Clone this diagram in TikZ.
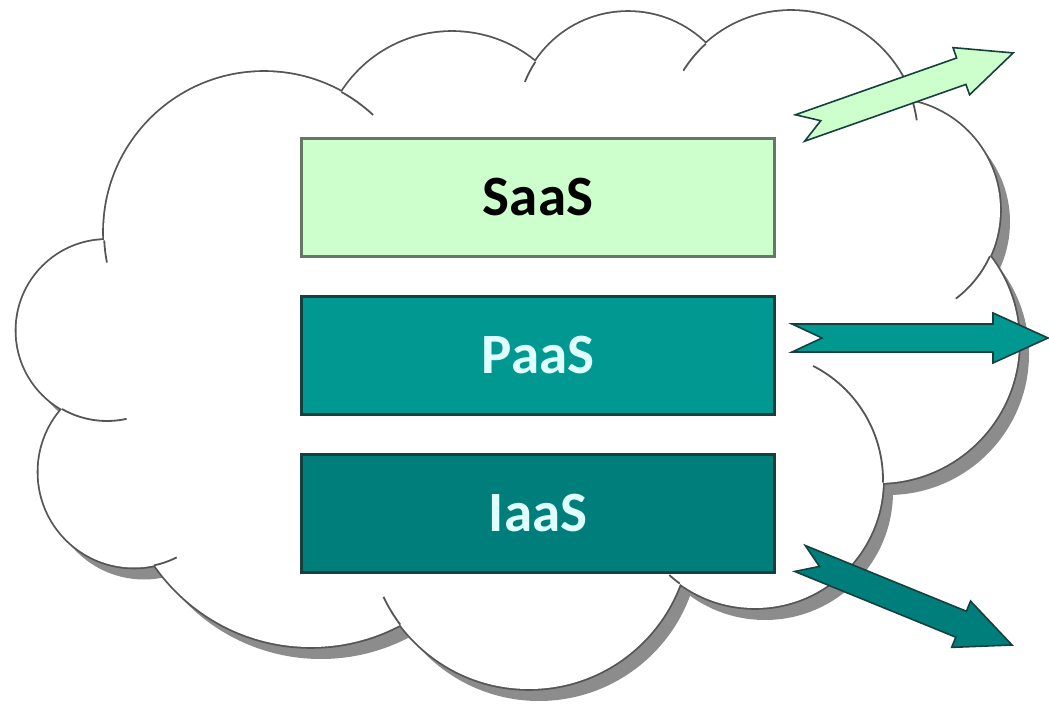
\documentclass[tikz,border=0pt]{standalone}
\usepackage{fontspec}
\setmainfont{Carlito}
\usetikzlibrary{positioning}
\definecolor{saaslight}{HTML}{CCFFCC}
\definecolor{saasedge}{HTML}{667766}
\definecolor{paasteal}{HTML}{009891}
\definecolor{iaasteal}{HTML}{007E7C}
\definecolor{tealedge}{HTML}{163F3E}
\definecolor{layertext}{HTML}{E0FFFF}
\definecolor{cloudline}{HTML}{555555}
\definecolor{cloudshade}{HTML}{8C8C8C}
\newcommand{\cloudbumps}{(264,232) circle[radius=160] (107,330.5) circle[radius=90.5] (134,472) circle[radius=95.5] (311,457) circle[radius=190] (529,528) circle[radius=161] (755,480) circle[radius=128] (878,342) circle[radius=141] (889,210) circle[radius=111] (791,138) circle[radius=127] (628,123) circle[radius=111] (452,163) circle[radius=131]}
\newcommand{\cloudcore}{(105,240) -- (341,93) -- (535,62) -- (706,44) -- (912,101) -- (990,257) -- (883,483) -- (680,584) -- (400,625) -- (154,565) -- (62,409) -- cycle}

\begin{document}
\begin{tikzpicture}[x=0.5pt, y=-0.5pt,
  layer/.style={draw, line width=1.5pt, minimum width=236.5pt, minimum height=59pt, inner sep=0pt, font=\bfseries\fontsize{28.5}{30}\selectfont},
  tail/.style={cloudline, line width=0.9pt},
  pics/notched/.style 2 args={code={\path[pic actions, line width=0.8pt, line join=miter] (0,-14) -- (#1-55,-14) -- (#1-55,-25) -- (#1,0) -- (#1-55,25) -- (#1-55,14) -- (0,14) -- (#2,0) -- cycle;}}]
\useasboundingbox (0,0) rectangle (1049,704);
% cloud: shadow, outline, then white body
\fill[cloudshade, shift={(10,12)}] \cloudbumps; \fill[cloudshade, shift={(10,12)}] \cloudcore;
\draw[cloudline, line width=1.8pt] \cloudbumps;
\fill[white] \cloudbumps; \fill[white] \cloudcore;
% inner ends of the bumps
\draw[tail] (264,232) ++(-61:160) arc[start angle=-61, end angle=-47, radius=160];
\draw[tail] (264,232) ++(177:160) arc[start angle=177, end angle=169, radius=160];
\draw[tail] (107,330.5) ++(119.8:90.5) arc[start angle=119.8, end angle=77.5, radius=90.5];
\draw[tail] (134,472) ++(77.9:95.5) arc[start angle=77.9, end angle=63.4, radius=95.5];
\draw[tail] (529,528) ++(143.1:161) arc[start angle=143.1, end angle=154.7, radius=161];
\draw[tail] (755,480) ++(126:128) arc[start angle=126, end angle=132, radius=128];
\draw[tail] (755,480) ++(1.2:128) arc[start angle=1.2, end angle=-63, radius=128];
\draw[tail] (889,210) ++(24.6:111) arc[start angle=24.6, end angle=53, radius=111];
\draw[tail] (791,138) ++(-16.7:127) arc[start angle=-16.7, end angle=-8, radius=127];
\draw[tail] (791,138) ++(227.9:127) arc[start angle=227.9, end angle=212, radius=127];
\draw[tail] (628,123) ++(213.4:111) arc[start angle=213.4, end angle=201.7, radius=111];
% the three layers
\node[layer, fill=saaslight, draw=saasedge, text=black] (saas) at (538,197.5) {SaaS};
\node[layer, fill=paasteal, draw=tealedge, text=layertext, below=18.5pt of saas] (paas) {PaaS};
\node[layer, fill=iaasteal, draw=tealedge, text=layertext, below=18.5pt of paas] (iaas) {IaaS};
% arrows leaving the cloud
\pic[fill=saaslight, draw=tealedge, rotate=19.4] at (800,128) {notched={226}{22}};
\pic[fill=paasteal, draw=tealedge] at (792,338) {notched={256}{30}};
\pic[fill=iaasteal, draw=tealedge, rotate=-22.2] at (800,558.5) {notched={229}{21}};
\end{tikzpicture}
\end{document}
